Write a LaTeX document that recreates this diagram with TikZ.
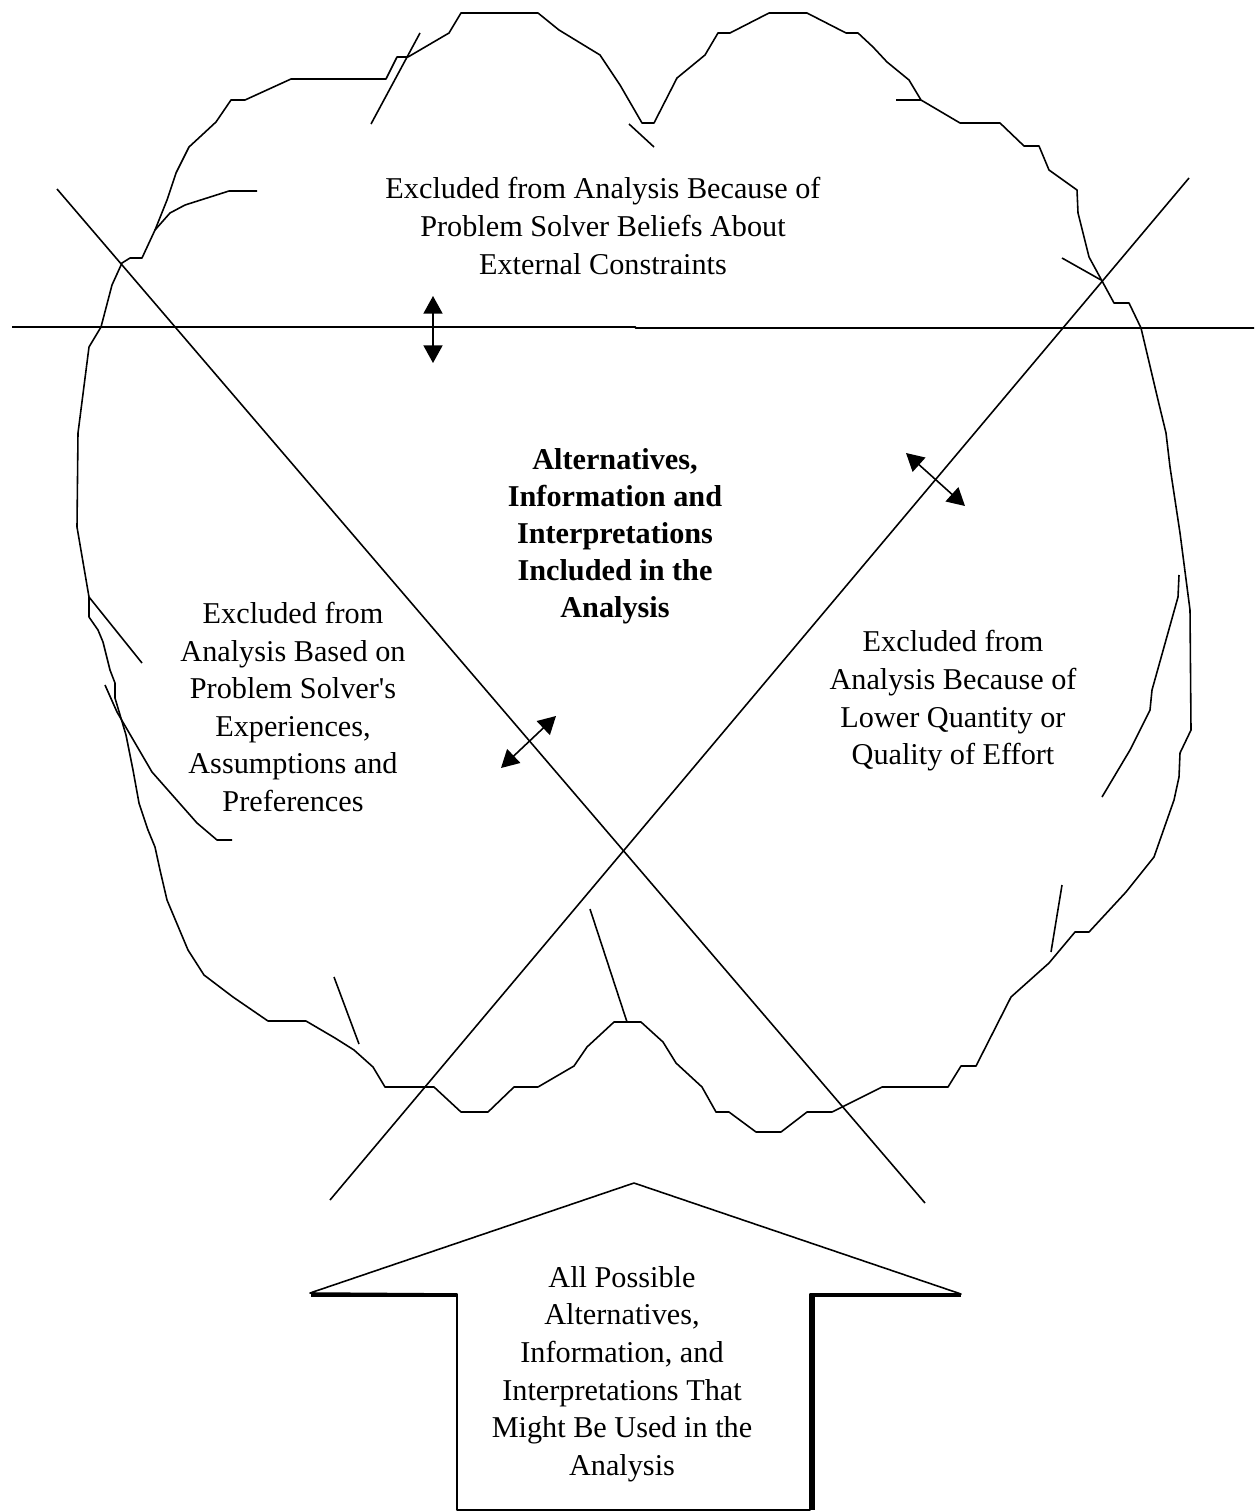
\documentclass[tikz,border=0pt]{standalone}
\usepackage{fontspec}
\setmainfont{Liberation Serif}
\usetikzlibrary{arrows.meta}

\begin{document}
\begin{tikzpicture}[x=0.01cm, y=-0.01cm,
    edge/.style={line width=0.45pt, line join=round},
    bar/.style={line width=0.55pt},
    dbl/.style={line width=0.45pt, {Triangle[length=5pt,width=5.4pt]}-{Triangle[length=5pt,width=5.4pt]}},
    label/.style={align=center, font=\fontsize{8.6}{10.7}\selectfont, inner sep=0pt}]
    \useasboundingbox (0,0) rectangle (1254,1512);

    % cloud outline
    \draw[edge] (77,527) -- (78,433) -- (89,347) -- (101,327) -- (112,285) -- (122,263)
      -- (130,258) -- (142,258) -- (155,230) -- (167,200) -- (176,173) -- (189,147)
      -- (202,135) -- (216,122) -- (231,100) -- (245,100) -- (291,79) -- (386,79)
      -- (397,57) -- (408,57) -- (449,33) -- (461,13) -- (538,13) -- (559,30)
      -- (600,55) -- (620,85) -- (642,123) -- (654,123) -- (677,78) -- (705,55)
      -- (718,33) -- (730,33) -- (769,13) -- (807,13) -- (846,33) -- (858,33)
      -- (873,47) -- (887,62) -- (909,80) -- (921,100) -- (960,123) -- (1000,123)
      -- (1024,146) -- (1039,146) -- (1049,170) -- (1077,190) -- (1078,213)
      -- (1089,257) -- (1114,303) -- (1129,303) -- (1141,328) -- (1158,400)
      -- (1166,433) -- (1170,467) -- (1180,533) -- (1190,610) -- (1191,730)
      -- (1180,753) -- (1179,777) -- (1174,800) -- (1154,857) -- (1126,892)
      -- (1089,932) -- (1075,932) -- (1049,963) -- (1011,997) -- (976,1066)
      -- (961,1066) -- (948,1087) -- (882,1087) -- (832,1112) -- (807,1112)
      -- (781,1132) -- (756,1132) -- (729,1112) -- (716,1112) -- (702,1087)
      -- (676,1063) -- (663,1042) -- (641,1022) -- (614,1022) -- (587,1047)
      -- (574,1066) -- (538,1087) -- (514,1087) -- (488,1112) -- (461,1112)
      -- (434,1087) -- (385,1087) -- (373,1067) -- (354,1050) -- (335,1038)
      -- (306,1021) -- (268,1021) -- (233,997) -- (204,975) -- (188,950)
      -- (167,900) -- (160,870) -- (155,847) -- (148,830) -- (139,803)
      -- (133,770) -- (126,735) -- (115,698) -- (115,683) -- (110,670)
      -- (103,642) -- (98,630) -- (89,617) -- (89,597) -- cycle;

    % small strokes on the cloud
    \draw[edge] (371,124) -- (420,33);
    \draw[edge] (629,124) -- (654,147);
    \draw[edge] (896,100) -- (921,100);
    \draw[edge] (1062,258) -- (1101,280);
    \draw[edge] (155,230) -- (170,213) -- (185,205) -- (229,191) -- (257,191);
    \draw[edge] (89,597) -- (142,663);
    \draw[edge] (105,685) -- (117,712) -- (152,772) -- (197,823) -- (217,840) -- (232,840);
    \draw[edge] (1179,575) -- (1178,597) -- (1152,690) -- (1150,710) -- (1130,750) -- (1102,797);
    \draw[edge] (1062,885) -- (1051,952);
    \draw[edge] (590,909) -- (627,1022);
    \draw[edge] (334,977) -- (359,1044);

    % dividing lines
    \draw[bar] (12,327) -- (635,327) -- (636,328) -- (1254,328);
    \draw[edge] (57,189) -- (925,1203);
    \draw[edge] (1189,178) -- (330,1200);

    % double arrows
    \coordinate (V1) at (433,296);
    \coordinate (V2) at (433,363);
    \coordinate (L1) at (556,716);
    \coordinate (L2) at (501,768);
    \coordinate (R1) at (906,453);
    \coordinate (R2) at (965,506);
    \draw[dbl] (V1) -- (V2);
    \draw[dbl] (L1) -- (L2);
    \draw[dbl] (R1) -- (R2);

    % source arrow
    \draw[edge] (457,1510) -- (457,1294) -- (310,1293) -- (634,1183) -- (961,1294)
      -- (810,1294) -- (810,1510) -- cycle;
    \draw[line width=1.1pt] (311,1295) -- (457,1295);
    \draw[line width=1.1pt] (811,1295) -- (961,1295);
    \draw[line width=1.1pt] (813,1294) -- (813,1510);

    % labels
    \node[label] (Top) at (603,226) {Excluded from Analysis Because of\\Problem Solver Beliefs About\\External Constraints};
    \node[label, font=\fontsize{8.6}{10.5}\selectfont\bfseries] (Core) at (615,536) {Alternatives,\\Information and\\Interpretations\\Included in the\\Analysis};
    \node[label] (Left) at (293,707) {Excluded from\\Analysis Based on\\Problem Solver\textquotesingle s\\Experiences,\\Assumptions and\\Preferences};
    \node[label] (Right) at (953,701) {Excluded from\\Analysis Because of\\Lower Quantity or\\Quality of Effort};
    \node[label] (Source) at (622,1374) {All Possible\\Alternatives,\\Information, and\\Interpretations That\\Might Be Used in the\\Analysis};
\end{tikzpicture}
\end{document}
